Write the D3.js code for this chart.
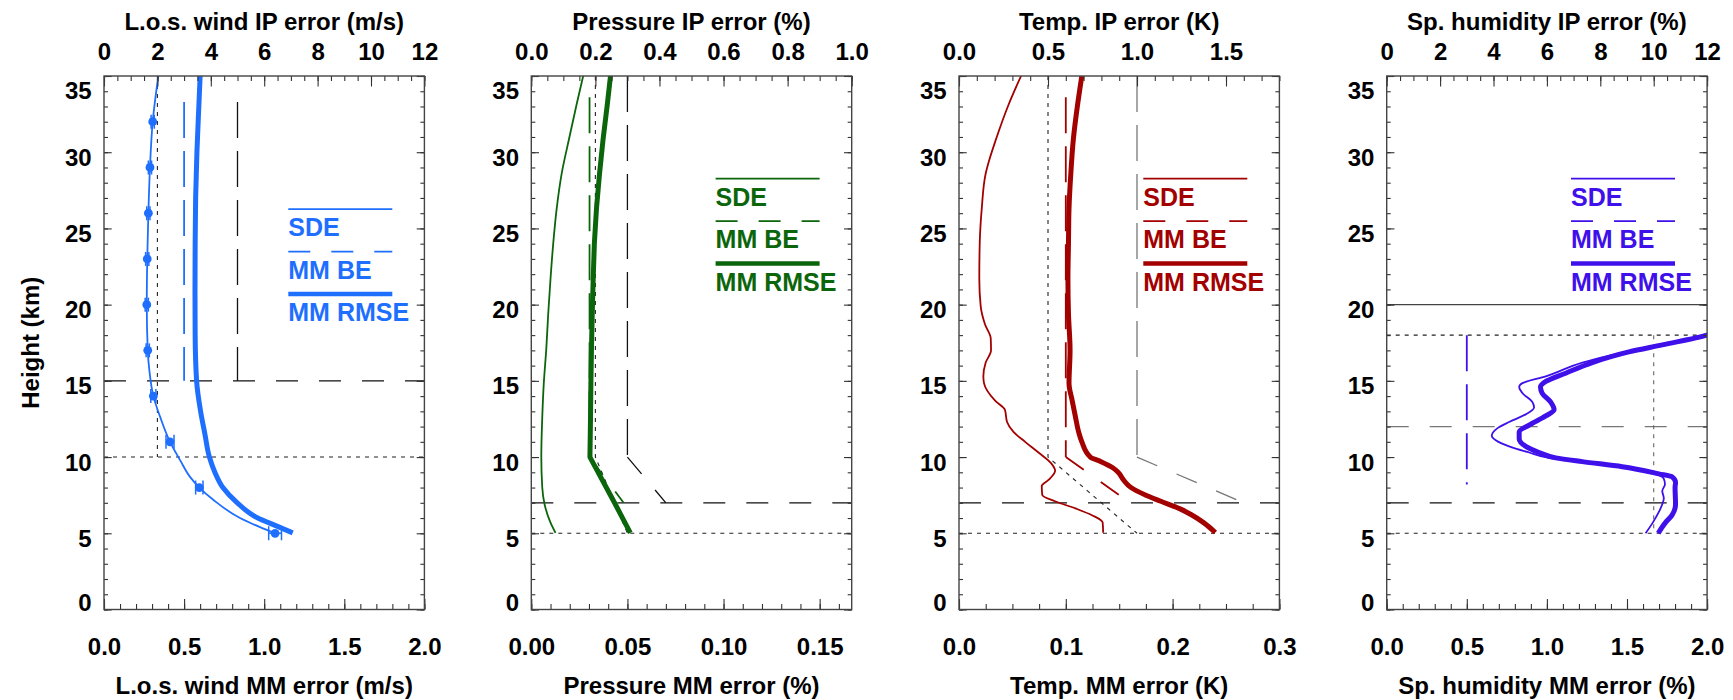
<!DOCTYPE html>
<html><head><meta charset="utf-8">
<script src="https://cdn.jsdelivr.net/npm/d3@7"></script>
<style>
body{margin:0;background:#fff;}
svg text{font-family:"Liberation Sans",Arial,Helvetica,sans-serif;font-weight:bold;}
</style></head><body>
<svg id="c" width="1733" height="700"></svg>
<script>
// ================= DATA =================
const heightTicks = [0,5,10,15,20,25,30,35];
const heightLabels = ["0","5","10","15","20","25","30","35"];
const yTitle = "Height (km)";
const topTitles = ["L.o.s. wind IP error (m/s)","Pressure IP error (%)","Temp. IP error (K)","Sp. humidity IP error (%)"];
const bottomTitles = ["L.o.s. wind MM error (m/s)","Pressure MM error (%)","Temp. MM error (K)","Sp. humidity MM error (%)"];
const legendLabels = ["SDE","MM BE","MM RMSE"];
const seriesColors = ["#1f6fff","#0b650b","#a30000","#3f10ea"];

const mmDomains = [[0,2],[0,1/6],[0,0.3],[0,2]];
const ipDomains = [[0,12],[0,1],[0,1.8],[0,12]];
const mmTickValues = [[0,0.5,1,1.5,2],[0,0.05,0.10,0.15],[0,0.1,0.2,0.3],[0,0.5,1,1.5,2]];
const mmTickLabels = [["0.0","0.5","1.0","1.5","2.0"],["0.00","0.05","0.10","0.15"],["0.0","0.1","0.2","0.3"],["0.0","0.5","1.0","1.5","2.0"]];
const mmMinorStep = [0.1,0.01,0.025,0.1];
const ipTickValues = [[0,2,4,6,8,10,12],[0,0.2,0.4,0.6,0.8,1.0],[0,0.5,1.0,1.5],[0,2,4,6,8,10,12]];
const ipTickLabels = [["0","2","4","6","8","10","12"],["0.0","0.2","0.4","0.6","0.8","1.0"],["0.0","0.5","1.0","1.5"],["0","2","4","6","8","10","12"]];
const ipMinorStep = [0.5,0.05,0.1,0.5];

// --- L.o.s. wind (MM error, m/s) ---
const windSdeHeight = [35,32,29,26,23,20,17,15.7,14,12.65,11,9.8,8.7,8,7.2,6,5.4,5];
const windSde       = [0.339,0.304,0.287,0.277,0.270,0.267,0.273,0.283,0.308,0.350,0.412,0.475,0.537,0.595,0.682,0.849,0.974,1.068];
const windMarkerHeight = [32,29,26,23,20,17,14,11,8,5];
const windMarkerSde    = [0.304,0.287,0.277,0.270,0.267,0.273,0.308,0.412,0.595,1.068];
const windMarkerErr    = [0.01,0.01,0.01,0.01,0.01,0.01,0.016,0.025,0.023,0.04];
const windRmseHeight = [35,33,30,27,24,21,18,15,13,11.5,10,9,8,7,6,5.5,5.03];
const windRmse       = [0.600,0.592,0.580,0.572,0.569,0.568,0.569,0.578,0.603,0.630,0.658,0.692,0.742,0.832,0.960,1.072,1.178];
const windBeHeight = [33.3,15];
const windBe       = [0.5,0.5];

// --- Pressure (MM error, %) ---
const presSdeHeight = [35,33.1,30.8,28.6,26.3,24,21.7,19.4,17.1,14.85,12.6,10,8,6.9,5.7,5.03];
const presSde       = [0.0270,0.0235,0.0195,0.0158,0.0132,0.0114,0.0100,0.0088,0.0078,0.0065,0.0057,0.0052,0.0057,0.0069,0.0100,0.0126];
const presRmseHeight = [35,33.1,30.8,28.6,26.3,24,21.7,19.4,17.1,14.85,12.6,10,7,5.03];
const presRmse       = [0.0412,0.0395,0.0373,0.0355,0.0339,0.0328,0.0322,0.0317,0.0313,0.0310,0.0308,0.0305,0.0433,0.0515];
const presBeHeight = [33.6,10,7];
const presBe       = [0.0303,0.0303,0.048];

// --- Temperature (MM error, K) ---
const tempSdeHeight = [35,33.1,30.8,29.5,28.6,26.3,24,21.7,19.9,18.7,17.8,17.0,16.2,15.3,14.85,13.7,13.1,12.3,11.65,11.0,10.3,9.6,9.1,8.5,8.1,7.5,7.1,6.63,6.17,5.71,5.03];
const tempSde       = [0.0581,0.0463,0.0344,0.0284,0.0250,0.0213,0.0194,0.0190,0.0203,0.0244,0.0297,0.0300,0.0250,0.0228,0.0234,0.0338,0.0430,0.0450,0.0510,0.0619,0.0744,0.0862,0.0900,0.0838,0.0775,0.0780,0.0900,0.1090,0.1250,0.1345,0.1350];
const tempRmseHeight = [35,33.1,30.8,28.6,26.3,24,21.7,19.4,17,14.85,13.7,12.65,11.65,11.0,10.0,9.7,9.3,9.0,8.5,8.0,7.5,7.1,6.6,6.2,5.7,5.05];
const tempRmse       = [0.115,0.111,0.107,0.1047,0.103,0.1025,0.102,0.1025,0.104,0.103,0.106,0.109,0.112,0.115,0.123,0.133,0.144,0.149,0.154,0.161,0.175,0.189,0.207,0.218,0.229,0.240];
const tempBeHeight = [33.6,10,7];
const tempBe       = [0.1,0.1,0.16];

// --- Specific humidity (MM error, %) ---
const humSdeHeight = [18.3,18.0,17.1,16.2,15.3,14.85,14.6,14.2,13.6,13.25,12.8,12.3,11.9,11.4,11.1,10.7,10.3,9.95,9.7,9.35,8.9,8.57,8.22,7.77,7.3,6.9,6.4,5.7,5.0];
const humSde       = [2.06,1.98,1.574,1.221,0.993,0.847,0.827,0.847,0.910,0.920,0.868,0.764,0.692,0.656,0.681,0.764,0.889,1.013,1.221,1.45,1.678,1.730,1.737,1.720,1.730,1.720,1.699,1.661,1.616];
const humRmseHeight = [18.3,18.0,17.36,16.9,16.2,15.5,14.96,14.6,14.2,13.6,13.1,12.7,12.1,11.65,11.2,10.7,10.3,9.95,9.7,9.37,8.9,8.7,8.34,8.0,6.9,6.17,5.7,5.0];
const humRmse       = [2.08,2.0,1.72,1.512,1.283,1.117,0.993,0.960,0.970,1.024,1.045,0.993,0.889,0.827,0.827,0.868,0.951,1.055,1.221,1.470,1.699,1.782,1.803,1.800,1.803,1.780,1.740,1.695];
const humBeHeight = [18,8.2];
const humBe       = [0.5,0.5];

// --- reference requirement lines (IP error units, top axis) ---
const refDottedIP     = [[2,2],[0.2,0.2,0.3],[0.5,0.5,1.0],[10,10]];
const refDottedHeight = [[35,10],[35,10,5],[35,10,5],[18,5]];
const refDashedIP     = [[5,5],[0.3,0.3,0.42],[1.0,1.0,1.6],[]];
const refDashedHeight = [[33.3,15],[35,10,7],[35,10,7],[]];
// horizontal reference heights
const hDotted = [[10],[5],[5],[18,5]];
const hDashed = [[15],[7],[7],[12,7]];
const hSolid  = [[],[],[],[20]];
const legendHeight = [26.27,28.27,28.27,28.27];

// ================= DRAWING =================
const svg = d3.select("#c");
const panelLeft = [104,531.3,959,1386.7];
const W = 320.4, TOP = 76, BOTTOM = 609.5;
const y = d3.scaleLinear().domain([0,35]).range([BOTTOM,TOP]);
const DASH = "22,21", LONGDASH = "36,13", DOT = "4,5";

const sde = [
  d3.zip(windSdeHeight,windSde), d3.zip(presSdeHeight,presSde),
  d3.zip(tempSdeHeight,tempSde), d3.zip(humSdeHeight,humSde)];
const rmse = [
  d3.zip(windRmseHeight,windRmse), d3.zip(presRmseHeight,presRmse),
  d3.zip(tempRmseHeight,tempRmse), d3.zip(humRmseHeight,humRmse)];
const be = [
  d3.zip(windBeHeight,windBe), d3.zip(presBeHeight,presBe),
  d3.zip(tempBeHeight,tempBe), d3.zip(humBeHeight,humBe)];
const rmseCurve = [d3.curveMonotoneY, d3.curveLinear, d3.curveMonotoneY, d3.curveMonotoneY];

const defs = svg.append("defs");

// draws a polyline segment by segment: vertical pieces long-dashed, slanted pieces dashed
function dashedSegments(parent, pts, xs, color, width){
  for (let k=0;k<pts.length-1;k++){
    const a = pts[k], b = pts[k+1];
    const vertical = a[1]===b[1];
    parent.append("line")
      .attr("x1",xs(a[1])).attr("y1",y(a[0])).attr("x2",xs(b[1])).attr("y2",y(b[0]))
      .attr("stroke",color).attr("stroke-width",width)
      .attr("stroke-dasharray",vertical?LONGDASH:DASH);
  }
}

for (let i=0;i<4;i++){
  const L = panelLeft[i];
  const xm = d3.scaleLinear().domain(mmDomains[i]).range([L,L+W]);
  const xi = d3.scaleLinear().domain(ipDomains[i]).range([L,L+W]);
  const col = seriesColors[i];
  const g = svg.append("g");

  defs.append("clipPath").attr("id","clip"+i).append("rect")
    .attr("x",L).attr("y",TOP).attr("width",W).attr("height",BOTTOM-TOP);
  const pg = g.append("g").attr("clip-path",`url(#clip${i})`);

  // horizontal reference lines
  hDotted[i].forEach(h=>pg.append("line").attr("x1",L).attr("x2",L+W).attr("y1",y(h)).attr("y2",y(h))
      .attr("stroke","#222").attr("stroke-width",1.1).attr("stroke-dasharray",DOT));
  hDashed[i].forEach(h=>pg.append("line").attr("x1",L).attr("x2",L+W).attr("y1",y(h)).attr("y2",y(h))
      .attr("stroke",h===12?"#777":"#111").attr("stroke-width",1.3).attr("stroke-dasharray",DASH));
  hSolid[i].forEach(h=>pg.append("line").attr("x1",L).attr("x2",L+W).attr("y1",y(h)).attr("y2",y(h))
      .attr("stroke","#444").attr("stroke-width",1.3));

  const ipLine = d3.line().x(d=>xi(d[1])).y(d=>y(d[0]));
  const mmLine = d3.line().x(d=>xm(d[1])).y(d=>y(d[0]));

  if (refDottedIP[i].length)
    pg.append("path").attr("d",ipLine(d3.zip(refDottedHeight[i],refDottedIP[i])))
      .attr("fill","none").attr("stroke",i===3?"#666":"#222").attr("stroke-width",1.1).attr("stroke-dasharray",DOT);
  if (refDashedIP[i].length)
    dashedSegments(pg, d3.zip(refDashedHeight[i],refDashedIP[i]), xi, i===2?"#777":"#111", 1.3);

  // MM BE
  dashedSegments(pg, be[i], xm, col, 1.8);
  // SDE thin
  pg.append("path").attr("d",mmLine.curve(d3.curveMonotoneY)(sde[i])).attr("fill","none").attr("stroke",col)
    .attr("stroke-width",1.8).attr("stroke-linejoin","round");
  // RMSE thick
  pg.append("path").attr("d",mmLine.curve(rmseCurve[i])(rmse[i])).attr("fill","none").attr("stroke",col)
    .attr("stroke-width",5).attr("stroke-linejoin","round");
  mmLine.curve(d3.curveLinear);

  if (i===0){
    const mk = d3.zip(windMarkerHeight,windMarkerSde,windMarkerErr);
    const mg = pg.append("g").attr("stroke",col).attr("stroke-width",1.5);
    mk.forEach(([h,v,e])=>{
      mg.append("line").attr("x1",xm(v-e)).attr("x2",xm(v+e)).attr("y1",y(h)).attr("y2",y(h));
      mg.append("line").attr("x1",xm(v-e)).attr("x2",xm(v-e)).attr("y1",y(h)-7).attr("y2",y(h)+7);
      mg.append("line").attr("x1",xm(v+e)).attr("x2",xm(v+e)).attr("y1",y(h)-7).attr("y2",y(h)+7);
      mg.append("circle").attr("cx",xm(v)).attr("cy",y(h)).attr("r",4.4).attr("fill",col).attr("stroke","none");
    });
  }

  // legend
  const ly = y(legendHeight[i]);
  const lx0 = L+184.3, lx1 = L+288.3;
  const lg = g.append("g");
  lg.append("line").attr("x1",lx0).attr("x2",lx1).attr("y1",ly).attr("y2",ly).attr("stroke",col).attr("stroke-width",1.8);
  lg.append("line").attr("x1",lx0).attr("x2",lx1).attr("y1",ly+42.5).attr("y2",ly+42.5).attr("stroke",col).attr("stroke-width",1.8).attr("stroke-dasharray",DASH);
  lg.append("line").attr("x1",lx0).attr("x2",lx1).attr("y1",ly+85).attr("y2",ly+85).attr("stroke",col).attr("stroke-width",4.5);
  [27,69.5,112].forEach((dy,k)=>lg.append("text").attr("x",lx0).attr("y",ly+dy)
     .attr("fill",col).style("font-size","25px").text(legendLabels[k]));

  // axes
  const styleAx = sel => { sel.select(".domain").remove(); sel.selectAll(".tick line").attr("stroke","#333").attr("stroke-width",1.1); };
  const minorX = d3.range(mmDomains[i][0], mmDomains[i][1]+1e-9, mmMinorStep[i]);
  const minorXi = d3.range(ipDomains[i][0], ipDomains[i][1]+1e-9, ipMinorStep[i]);
  const minorY = d3.range(0,36,1);

  g.append("g").attr("transform",`translate(0,${BOTTOM})`)
    .call(d3.axisBottom(xm).tickValues(minorX).tickSize(-5.5).tickFormat("")).call(styleAx);
  const bx = g.append("g").attr("transform",`translate(0,${BOTTOM})`)
    .call(d3.axisBottom(xm).tickValues(mmTickValues[i]).tickSize(-10.5).tickFormat((d,j)=>mmTickLabels[i][j])).call(styleAx);
  bx.selectAll("text").attr("y",37.2).attr("dy","0.36em").attr("fill","#000").style("font-size","24px");

  g.append("g").attr("transform",`translate(0,${TOP})`)
    .call(d3.axisTop(xi).tickValues(minorXi).tickSize(-5).tickFormat("")).call(styleAx);
  const tx = g.append("g").attr("transform",`translate(0,${TOP})`)
    .call(d3.axisTop(xi).tickValues(ipTickValues[i]).tickSize(-10.5).tickFormat((d,j)=>ipTickLabels[i][j])).call(styleAx);
  tx.selectAll("text").attr("y",-24.3).attr("dy","0.36em").attr("fill","#000").style("font-size","24px");

  g.append("g").attr("transform",`translate(${L},0)`)
    .call(d3.axisLeft(y).tickValues(minorY).tickSize(-4).tickFormat("")).call(styleAx);
  const ly2 = g.append("g").attr("transform",`translate(${L},0)`)
    .call(d3.axisLeft(y).tickValues(heightTicks).tickSize(-7.7).tickFormat((d,j)=>heightLabels[j])).call(styleAx);
  ly2.selectAll("text").attr("x",-12.3).attr("dy","0.36em").attr("fill","#000").style("font-size","24px")
    .attr("y",d=>Math.min(Math.max(y(d)+4.5,TOP+14),BOTTOM-8)-y(d));

  g.append("g").attr("transform",`translate(${L+W},0)`)
    .call(d3.axisRight(y).tickValues(minorY).tickSize(-4).tickFormat("")).call(styleAx);
  g.append("g").attr("transform",`translate(${L+W},0)`)
    .call(d3.axisRight(y).tickValues(heightTicks).tickSize(-7.7).tickFormat("")).call(styleAx);

  // frame
  g.append("rect").attr("x",L).attr("y",TOP).attr("width",W).attr("height",BOTTOM-TOP)
    .attr("fill","none").attr("stroke","#444").attr("stroke-width",1.4);

  // titles
  g.append("text").attr("x",L+W/2).attr("y",21.7).attr("dy","0.36em").attr("text-anchor","middle")
    .style("font-size","24px").text(topTitles[i]);
  g.append("text").attr("x",L+W/2).attr("y",685).attr("dy","0.36em").attr("text-anchor","middle")
    .style("font-size","24px").text(bottomTitles[i]);
}

svg.append("text").attr("transform",`translate(30,${(TOP+BOTTOM)/2}) rotate(-90)`)
  .attr("text-anchor","middle").attr("dy","0.36em").style("font-size","24px").text(yTitle);
</script>
</body></html>
